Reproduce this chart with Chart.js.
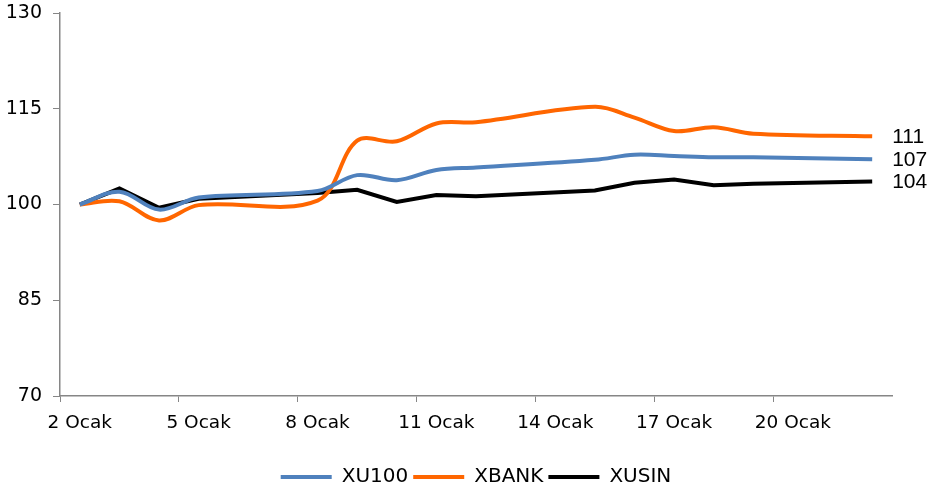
<!DOCTYPE html>
<html>
<head>
<meta charset="utf-8">
<script src="https://cdn.jsdelivr.net/npm/chart.js@4/dist/chart.umd.min.js"></script>
<style>
    html, body { margin: 0; padding: 0; background: #fff; }
    #wrap { width: 928px; height: 491px; }
</style>
</head>
<body>
<div id="wrap"><canvas id="lineChart"></canvas></div>
<script>
// takvim günleri (eksen) ve işlem günleri (veri)
var axisDays = [2, 3, 4, 5, 6, 7, 8, 9, 10, 11, 12, 13, 14, 15, 16, 17, 18, 19, 20, 21, 22];
var tradeDays = [2, 3, 4, 5, 8, 9, 10, 11, 12, 15, 16, 17, 18, 19, 22];

var xu100 = [100, 102.0, 99.2, 101.1, 102.1, 104.6, 103.8, 105.4, 105.8, 107.0, 107.8, 107.6, 107.4, 107.4, 107.1];
var xbank = [100, 100.5, 97.5, 99.9, 100.6, 110.0, 109.9, 112.7, 112.9, 115.3, 113.6, 111.5, 112.1, 111.1, 110.7];
var xusin = [100, 102.5, 99.5, 100.9, 101.8, 102.3, 100.4, 101.5, 101.3, 102.2, 103.4, 103.9, 103.0, 103.25, 103.6];

var yTicks = [70, 85, 100, 115, 130];

var dayLabel = function (d) { return d + ' Ocak' };
var labels = axisDays.map(dayLabel);

function toPoints(values) {
    return values.map((v, i) => { return { x: dayLabel(tradeDays[i]), y: v } });
}

var FONT = "'DejaVu Sans', sans-serif";
var AXIS_COLOR = '#868686';

// son değer etiketleri (111, 107, 104)
var endLabels = {
    id: 'endLabels',
    afterDatasetsDraw(chart) {
        var ctx = chart.ctx;
        ctx.save();
        ctx.font = "21px 'Liberation Sans', Arial, sans-serif";
        ctx.fillStyle = '#000';
        ctx.textBaseline = 'middle';
        ctx.textAlign = 'left';
        chart.data.datasets.forEach((ds, i) => {
            var meta = chart.getDatasetMeta(i);
            var last = meta.data[meta.data.length - 1];
            var v = ds.data[ds.data.length - 1].y;
            ctx.fillText(Math.round(v), last.x + 20, last.y + 1);
        });
        ctx.restore();
    }
};

// lejantı çizim alanının ortasına kaydır
var legendShift = {
    id: 'legendShift',
    afterLayout(chart) {
        var lg = chart.legend;
        var mid = (chart.chartArea.left + chart.chartArea.right) / 2;
        var d = mid - (lg.left + lg.right) / 2;
        lg.left += d;
        lg.right += d;
        lg.top += 7;
        lg.bottom += 7;
    }
};

var ctx = document.getElementById('lineChart');
var myLineChart = new Chart(ctx, {
    type: 'line',
    data: {
        labels: labels,
        datasets: [
            {
                label: 'XU100',
                data: toPoints(xu100),
                borderColor: '#4F81BD',
                backgroundColor: '#4F81BD',
                borderWidth: 4,
                tension: 0.35,
                pointRadius: 0,
                fill: false
            },
            {
                label: 'XBANK',
                data: toPoints(xbank),
                borderColor: '#FF6600',
                backgroundColor: '#FF6600',
                borderWidth: 4,
                tension: 0.35,
                pointRadius: 0,
                fill: false
            },
            {
                label: 'XUSIN',
                data: toPoints(xusin),
                borderColor: '#000000',
                backgroundColor: '#000000',
                borderWidth: 4,
                tension: 0,
                pointRadius: 0,
                fill: false
            }
        ]
    },
    options: {
        responsive: true,
        maintainAspectRatio: false,
        animation: false,
        layout: { padding: { left: 7, right: 36, top: 13, bottom: 1 } },
        plugins: {
            legend: {
                position: 'bottom',
                labels: {
                    font: { family: FONT, size: 20 },
                    color: '#000',
                    boxWidth: 51,
                    boxHeight: 4,
                    padding: 5,
                    generateLabels: (chart) => {
                        return Chart.defaults.plugins.legend.labels.generateLabels(chart).map(it => {
                            it.lineWidth = 0;
                            it.fillStyle = it.strokeStyle;
                            return it;
                        });
                    }
                }
            },
            tooltip: { enabled: false }
        },
        scales: {
            x: {
                type: 'category',
                offset: true,
                border: { color: AXIS_COLOR, width: 1.5 },
                grid: {
                    offset: true,
                    drawOnChartArea: false,
                    drawTicks: true,
                    tickLength: 6,
                    color: (c) => { return c.index % 3 === 0 ? AXIS_COLOR : 'rgba(0,0,0,0)' }
                },
                ticks: {
                    autoSkip: false,
                    maxRotation: 0,
                    color: '#000',
                    font: { family: FONT, size: 18.5 },
                    padding: 10,
                    callback: function (val, i) { return i % 3 === 0 ? labels[i] : '' }
                },
                afterFit: (scale) => {
                    scale.paddingLeft = 0;
                    scale.paddingRight = 0;
                    scale.height = 59;
                }
            },
            y: {
                min: 70,
                max: 130,
                afterBuildTicks: (axis) => { axis.ticks = yTicks.map(v => { return { value: v } }) },
                border: { color: AXIS_COLOR, width: 1.5 },
                grid: {
                    drawOnChartArea: false,
                    drawTicks: true,
                    tickLength: 7,
                    color: AXIS_COLOR
                },
                ticks: {
                    color: '#000',
                    font: { family: FONT, size: 19 },
                    padding: 11
                },
                afterFit: (scale) => {
                    scale.paddingTop = 0;
                    scale.paddingBottom = 0;
                    scale.width = 53;
                }
            }
        }
    },
    plugins: [endLabels, legendShift]
});
</script>
</body>
</html>
